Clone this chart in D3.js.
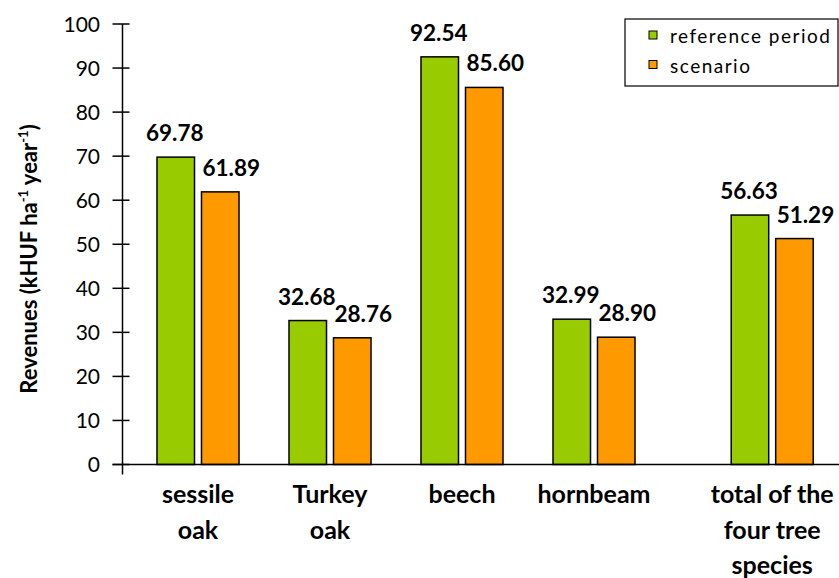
<!DOCTYPE html>
<html lang="en">
<head>
<meta charset="utf-8">
<title>Revenues by tree species</title>
<script src="https://d3js.org/d3.v7.min.js"></script>
<style>
  body { margin: 0; background: #fff; }
  svg { font-family: Lato, "Open Sans", sans-serif; }
  .bar { stroke: #000; stroke-width: 1.5; }
  .tick-label { font-size: 21px; fill: #000; }
  .value { font-size: 22.5px; font-weight: bold; }
  .cat { font-size: 25px; font-weight: bold; }
</style>
</head>
<body>
<script>
// data
var categories = [["sessile", "oak"], ["Turkey", "oak"], ["beech"], ["hornbeam"], ["total of the", "four tree", "species"]];
var series = ["reference period", "scenario"];
var refValues = [69.78, 32.68, 92.54, 32.99, 56.63];
var scenValues = [61.89, 28.76, 85.60, 28.90, 51.29];
var yTicks = [0, 10, 20, 30, 40, 50, 60, 70, 80, 90, 100];

var colors = ["#99cc00", "#ff9900"];
var labelShift = [-1, 11];

var W = 839, H = 578;
var svg = d3.select("body").append("svg")
    .attr("width", W)
    .attr("height", H);

var y = d3.scaleLinear().domain([0, 100]).range([464.5, 24]);

// group centres: first four evenly spaced, the total set a bit further out
var x = d3.scaleLinear().domain([0, 1]).range([198, 330]);
function slot(i) { return i === 4 ? 4.35 : i; }

var inner = d3.scaleBand().domain(series).range([-41, 41]).paddingInner(0.157);

var rows = categories.map(function(c, i) {
  return { cat: c, i: i, vals: [refValues[i], scenValues[i]] };
});

// y axis line with crossing ticks
var axisX = 122.5;
svg.append("line")
    .attr("x1", axisX).attr("x2", axisX)
    .attr("y1", y(100)).attr("y2", y(0) + 10)
    .attr("stroke", "#000").attr("stroke-width", 1.5);

svg.selectAll(".ytick")
    .data(yTicks)
  .enter().append("line")
    .attr("class", "ytick")
    .attr("x1", axisX - 10).attr("x2", axisX + 7)
    .attr("y1", function(d) { return y(d); })
    .attr("y2", function(d) { return y(d); })
    .attr("stroke", "#000").attr("stroke-width", 1.5);

svg.selectAll(".tick-label")
    .data(yTicks)
  .enter().append("text")
    .attr("class", "tick-label")
    .attr("x", 100)
    .attr("y", function(d) { return y(d); })
    .attr("dy", "0.36em")
    .attr("text-anchor", "end")
    .text(function(d) { return d; });

// bars
var group = svg.selectAll(".group")
    .data(rows)
  .enter().append("g")
    .attr("class", "group")
    .attr("transform", function(d) { return "translate(" + x(slot(d.i)) + ",0)"; });

group.selectAll(".bar")
    .data(function(d) { return d.vals; })
  .enter().append("rect")
    .attr("class", "bar")
    .attr("x", function(v, j) { return inner(series[j]); })
    .attr("width", inner.bandwidth())
    .attr("y", function(v) { return y(v); })
    .attr("height", function(v) { return y(0) - y(v); })
    .attr("fill", function(v, j) { return colors[j]; });

group.selectAll(".value")
    .data(function(d) { return d.vals; })
  .enter().append("text")
    .attr("class", "value")
    .attr("x", function(v, j) { return inner(series[j]) + inner.bandwidth() / 2 + labelShift[j]; })
    .attr("y", function(v) { return y(v) - 16; })
    .attr("text-anchor", "middle")
    .text(function(v) { return v.toFixed(2); });

// x axis line
svg.append("line")
    .attr("x1", axisX - 10).attr("x2", W)
    .attr("y1", y(0)).attr("y2", y(0))
    .attr("stroke", "#000").attr("stroke-width", 1.5);

// category labels
var cat = group.append("text")
    .attr("class", "cat")
    .attr("text-anchor", "middle")
    .attr("y", 503);
cat.selectAll("tspan")
    .data(function(d) { return d.cat; })
  .enter().append("tspan")
    .attr("x", 0)
    .attr("dy", function(t, k) { return k === 0 ? 0 : 35.5; })
    .text(function(t) { return t; });

// y title
var title = svg.append("text")
    .attr("transform", "translate(37,259) rotate(-90)")
    .attr("text-anchor", "middle")
    .style("font-size", "22px")
    .style("font-weight", "bold");
title.append("tspan").text("Revenues (kHUF ha");
title.append("tspan").attr("dy", -9).style("font-size", "13px").text("-1");
title.append("tspan").attr("dy", 9).text(" year");
title.append("tspan").attr("dy", -9).style("font-size", "13px").text("-1");
title.append("tspan").attr("dy", 9).text(")");

// legend
var legend = svg.append("g").attr("transform", "translate(625,19)");
legend.append("rect")
    .attr("width", 213).attr("height", 67)
    .attr("fill", "#fff").attr("stroke", "#000").attr("stroke-width", 1.2);
var item = legend.selectAll(".item")
    .data(series)
  .enter().append("g")
    .attr("class", "item")
    .attr("transform", function(d, i) { return "translate(24," + (12 + i * 29.5) + ")"; });
item.append("rect")
    .attr("width", 8).attr("height", 8)
    .attr("fill", function(d, i) { return colors[i]; })
    .attr("stroke", "#000").attr("stroke-width", 1);
item.append("text")
    .attr("x", 21).attr("y", 12)
    .style("font-size", "19px")
    .style("letter-spacing", "1.5px")
    .text(function(d) { return d; });
</script>
</body>
</html>
